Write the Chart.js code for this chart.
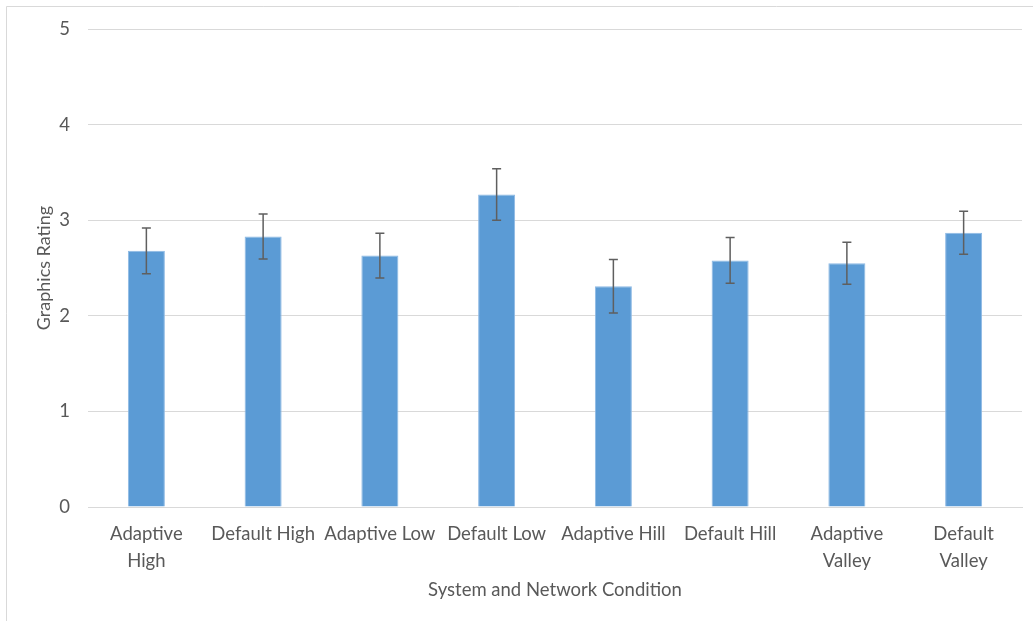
<!DOCTYPE html>
<html>
<head>
<meta charset="utf-8">
<script src="https://cdn.jsdelivr.net/npm/chart.js@4/dist/chart.umd.min.js"></script>
<style>
  html, body { margin: 0; padding: 0; background: #ffffff; }
  #wrap { width: 1033px; height: 621px; position: relative; }
</style>
</head>
<body>
<div id="wrap"><canvas id="c" width="1033" height="621"></canvas></div>
<script>
const categories = [
  ["Adaptive", "High"], "Default High", "Adaptive Low", "Default Low",
  "Adaptive Hill", "Default Hill", ["Adaptive", "Valley"], ["Default", "Valley"]
];
const ratings = [2.68, 2.83, 2.63, 3.27, 2.31, 2.58, 2.55, 2.87];
const errors  = [0.24, 0.235, 0.235, 0.27, 0.28, 0.24, 0.22, 0.225];
const yTicks  = [0, 1, 2, 3, 4, 5];

const FONT = "Lato, 'Open Sans', sans-serif";
const GRAY = "#595959";

const errorBarPlugin = {
  id: 'errorBars',
  afterDatasetsDraw(chart) {
    const ctx = chart.ctx;
    const meta = chart.getDatasetMeta(0);
    const y = chart.scales.y;
    ctx.save();
    ctx.strokeStyle = "#5f5f5f";
    ctx.lineWidth = 1.5;
    meta.data.forEach((bar, i) => {
      const v = ratings[i], e = errors[i];
      const yTop = y.getPixelForValue(v + e);
      const yBot = y.getPixelForValue(v - e);
      const x = bar.x;
      ctx.beginPath();
      ctx.moveTo(x, yTop); ctx.lineTo(x, yBot);
      ctx.moveTo(x - 4.5, yTop); ctx.lineTo(x + 4.5, yTop);
      ctx.moveTo(x - 4.5, yBot); ctx.lineTo(x + 4.5, yBot);
      ctx.stroke();
    });
    ctx.restore();
  }
};

const framePlugin = {
  id: 'frame',
  beforeDraw(chart) {
    const ctx = chart.ctx;
    ctx.save();
    ctx.fillStyle = "#ffffff";
    ctx.fillRect(0, 0, chart.width, chart.height);
    ctx.strokeStyle = "#d9d9d9";
    ctx.lineWidth = 1;
    ctx.beginPath();
    ctx.moveTo(6.5, chart.height);
    ctx.lineTo(6.5, 6.5);
    ctx.lineTo(chart.width, 6.5);
    ctx.stroke();
    ctx.restore();
  }
};

new Chart(document.getElementById('c'), {
  type: 'bar',
  data: {
    labels: categories,
    datasets: [{
      data: ratings,
      backgroundColor: "#5B9BD5",
      borderColor: "#8DB9E4",
      borderWidth: 1,
      categoryPercentage: 1.0,
      barPercentage: 0.317
    }]
  },
  options: {
    responsive: false,
    animation: false,
    devicePixelRatio: 1,
    layout: { padding: { left: 0, top: 27, right: 11, bottom: 0 } },
    plugins: {
      legend: { display: false },
      tooltip: { enabled: false }
    },
    scales: {
      x: {
        grid: { display: false, drawTicks: false },
        border: { display: true, color: "#d9d9d9", width: 1 },
        ticks: {
          color: GRAY,
          font: { family: FONT, size: 18.5, lineHeight: 1.45 },
          padding: 14,
          maxRotation: 0,
          autoSkip: false
        },
        title: {
          display: true,
          text: "System and Network Condition",
          color: GRAY,
          font: { family: FONT, size: 18.5 },
          padding: { top: 0, bottom: 20 }
        },
        afterFit(s) { s.height = 114; }
      },
      y: {
        min: 0, max: 5,
        afterBuildTicks(s) { s.ticks = yTicks.map(v => ({ value: v })); },
        grid: { color: "#d9d9d9", drawTicks: false, lineWidth: 1 },
        border: { display: false },
        ticks: {
          color: GRAY,
          font: { family: FONT, size: 18.5 },
          padding: 18
        },
        title: {
          display: true,
          text: "Graphics Rating",
          color: GRAY,
          font: { family: FONT, size: 18 },
          padding: { top: 33, bottom: 0 }
        },
        afterFit(s) { s.width = 88; }
      }
    }
  },
  plugins: [framePlugin, errorBarPlugin]
});
</script>
</body>
</html>
